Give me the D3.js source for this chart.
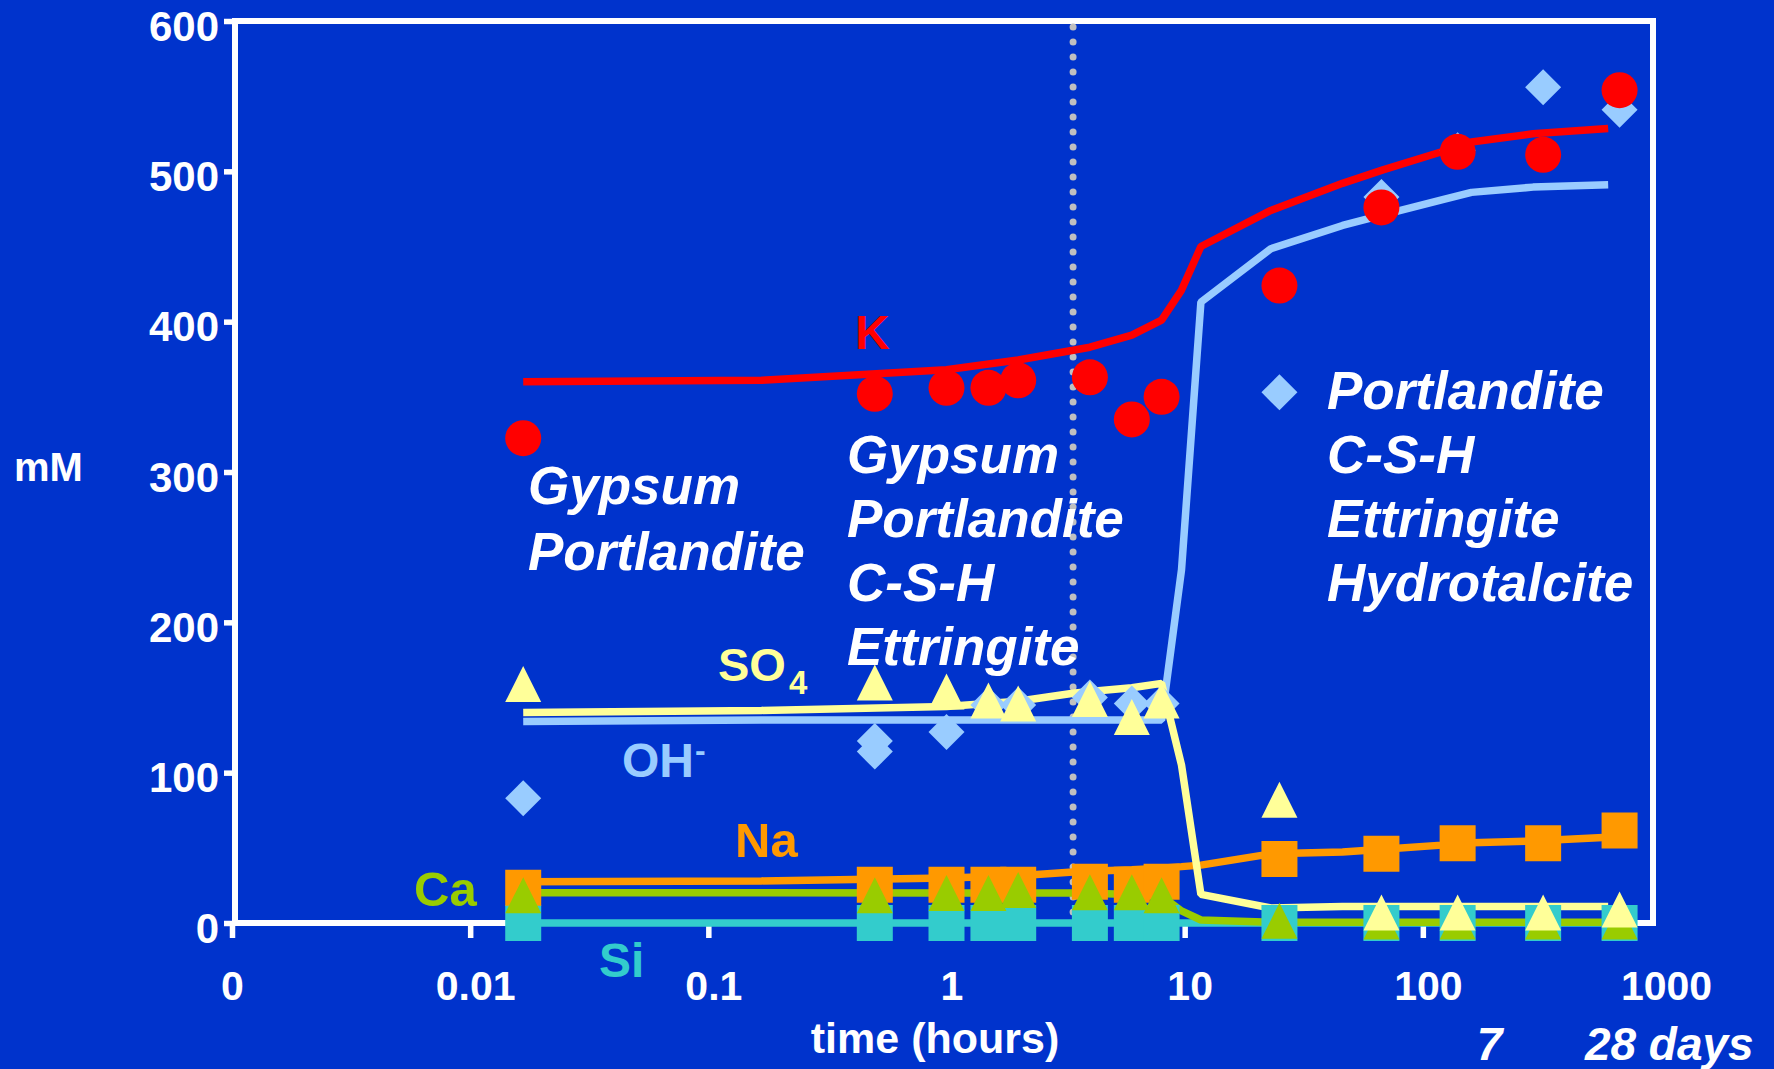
<!DOCTYPE html>
<html>
<head>
<meta charset="utf-8">
<script src="https://cdn.jsdelivr.net/npm/d3@7"></script>
<style>
  html, body { margin: 0; padding: 0; background: #0033cc; overflow: hidden; }
  svg { display: block; }
  text { font-family: "Liberation Sans", Arial, Helvetica, sans-serif; font-weight: bold; fill: #ffffff; }
</style>
</head>
<body>
<svg id="chart" width="1774" height="1069"></svg>
<script>
// ---- Simulated pore-solution composition (mM) on a common time grid (hours)
const modelHours = [0.0167, 0.167, 1, 2, 3.4, 4, 6, 8, 9.7, 11.7, 23, 46, 68, 120, 160, 290, 600];
const modelK   = [360, 361, 368, 374.5, 381, 383, 391, 401, 421, 450, 474, 492, 501, 513, 519.5, 525, 528.5];
const modelOH  = [134, 135, 135, 135, 135, 135, 135, 135, 235, 413, 448.5, 464, 471, 481, 486, 489.5, 491];
const modelSO4 = [140, 141.4, 144, 147.5, 152.8, 154, 156.5, 159.4, 105, 19, 10, 11, 11, 11, 11, 11, 11];
const modelNa  = [27.5, 28, 30, 31.5, 34, 34.5, 35.5, 36.5, 37.5, 38.5, 46, 47.3, 49, 51.8, 53.3, 54.5, 57];
const modelCa  = [20.2, 20.2, 20, 20, 20, 19.8, 19, 18, 8, 2, 0.5, 0.5, 0.5, 0.5, 0.5, 0.5, 0.5];
const modelSi  = [0, 0, 0, 0, 0, 0, 0, 0, 0, 0, 0, 0, 0, 0, 0, 0, 0];

// ---- Measured pore-solution composition (mM)
const sampleHours = [0.0167, 0.5, 1, 1.5, 2, 4, 6, 8, 25, 67, 140, 320, 670];
const measK   = [322.5, 352, 356, 356, 361, 363, 335, 350, 424, 476, 513, 511, 554];
const measSO4 = [159, 160, 154, 148, 146, 149, 137, 148, 82, 7, 7, 7, 9];
const measNa  = [23.5, 25.5, 25.5, 25.5, 25.5, 27.5, 25.5, 27.5, 42.5, 46, 53, 53, 61.5];
const measCa  = [18.5, 18.5, 20, 20, 22, 20.5, 20.5, 18.5, 1.5, 1, 1, 1, 1];
const measSi  = [0, 0, 0, 0, 0, 0, 0, 0, 0, 0, 0, 0, 0];
const ohHours = [0.0167, 0.5, 0.5, 1, 1.5, 2, 4, 6, 8, 25, 67, 140, 320, 670];
const measOH  = [83, 121, 114, 127, 145, 145, 150, 146, 146, 353, 483, 514, 556, 541];

// ---- Axes
const yTicks = [0, 100, 200, 300, 400, 500, 600];
const xTickValues = [0.001, 0.01, 0.1, 1, 10, 100, 1000];
const xTickLabels = ["0", "0.01", "0.1", "1", "10", "100", "1000"];
const xTickMarks  = [0.001, 0.01, 0.1, 1, 10, 100];
const dayHours  = [168, 672];
const dayLabels = ["7", "28 days"];
const dividerHours = 3.4;

const colors = {
  K: "#ff0000", OH: "#99ccff", SO4: "#ffff99", Na: "#ff9900", Ca: "#99cc00", Si: "#33cccc"
};

const svg = d3.select("#chart");
const frame = { left: 235, right: 1653, top: 21, bottom: 923 };

const x = d3.scaleLog().domain([0.001, 1000]).range([232, 1661]);
const y = d3.scaleLinear().domain([0, 600]).range([frame.bottom, frame.top]);

// plot frame
svg.append("rect")
  .attr("x", frame.left).attr("y", frame.top)
  .attr("width", frame.right - frame.left).attr("height", frame.bottom - frame.top)
  .attr("fill", "none").attr("stroke", "#ffffff").attr("stroke-width", 6);

// y axis ticks + labels
const yAxis = svg.append("g")
  .attr("transform", `translate(${frame.left},0)`)
  .call(d3.axisLeft(y).tickValues(yTicks).tickSize(11).tickPadding(5).tickFormat(d3.format("d")));
yAxis.select(".domain").remove();
yAxis.selectAll(".tick line").attr("stroke", "#ffffff").attr("stroke-width", 5.5);
yAxis.selectAll(".tick text")
  .attr("fill", "#ffffff").attr("font-size", 42).attr("dy", "0.46em")
  .attr("font-family", "Liberation Sans, Arial, sans-serif").attr("font-weight", "bold");

// x axis tick marks (below the frame)
const xMarks = svg.append("g")
  .attr("transform", `translate(0,${frame.bottom})`)
  .call(d3.axisBottom(x).tickValues(xTickMarks).tickSize(15).tickFormat(""));
xMarks.select(".domain").remove();
xMarks.selectAll(".tick line").attr("stroke", "#ffffff").attr("stroke-width", 5.5);

// x axis labels
const xLabels = svg.append("g")
  .attr("transform", `translate(0,${frame.bottom})`)
  .call(d3.axisBottom(x).tickValues(xTickValues).tickSize(0)
    .tickFormat((d, i) => xTickLabels[i]));
xLabels.select(".domain").remove();
xLabels.selectAll(".tick text")
  .attr("fill", "#ffffff").attr("font-size", 41).attr("y", 77).attr("dy", 0)
  .attr("dx", (d, i) => i === 0 ? 0 : 5)
  .attr("font-family", "Liberation Sans, Arial, sans-serif").attr("font-weight", "bold");

// day markers under the time axis
svg.selectAll("text.day")
  .data(dayHours)
  .join("text")
  .attr("class", "day")
  .attr("x", (d, i) => i === 0 ? x(d) + 13 : x(d) - 35)
  .attr("y", 1060)
  .attr("text-anchor", (d, i) => i === 0 ? "middle" : "start")
  .attr("font-size", 46).attr("font-style", "italic")
  .text((d, i) => dayLabels[i]);

// axis titles
svg.append("text").attr("x", 935).attr("y", 1053).attr("text-anchor", "middle")
  .attr("font-size", 43).text("time (hours)");
svg.append("text").attr("x", 14).attr("y", 481).attr("font-size", 40).text("mM");

// dotted divider
svg.append("line")
  .attr("x1", x(dividerHours)).attr("x2", x(dividerHours))
  .attr("y1", frame.top + 6).attr("y2", frame.bottom - 3)
  .attr("stroke", "#c0c0c0").attr("stroke-width", 7)
  .attr("stroke-linecap", "round").attr("stroke-dasharray", "0 15");

// model curves
const line = d3.line().x(d => x(d[0])).y(d => y(d[1]));
const curves = [
  [modelSi, colors.Si], [modelCa, colors.Ca], [modelNa, colors.Na],
  [modelOH, colors.OH], [modelSO4, colors.SO4], [modelK, colors.K]
];
curves.forEach(([vals, col]) => {
  svg.append("path")
    .datum(modelHours.map((h, i) => [h, vals[i]]))
    .attr("d", line)
    .attr("fill", "none").attr("stroke", col)
    .attr("stroke-width", 7.5).attr("stroke-linejoin", "bevel");
});

// measured points
const S = 18;
const square = (cx, cy) => `M${cx - S},${cy - S}h${2 * S}v${2 * S}h${-2 * S}Z`;
const triangle = (cx, cy) => `M${cx},${cy - S}L${cx + S},${cy + S}L${cx - S},${cy + S}Z`;
const diamond = (cx, cy) => `M${cx},${cy - S}L${cx + S},${cy}L${cx},${cy + S}L${cx - S},${cy}Z`;

function markers(hours, vals, shape, col) {
  svg.append("g").selectAll("path")
    .data(hours.map((h, i) => [h, vals[i]]))
    .join("path")
    .attr("d", d => shape(x(d[0]), y(d[1])))
    .attr("fill", col);
}
markers(sampleHours, measSi, square, colors.Si);
markers(sampleHours, measNa, square, colors.Na);
markers(sampleHours, measCa, triangle, colors.Ca);
markers(ohHours, measOH, diamond, colors.OH);
markers(sampleHours, measSO4, triangle, colors.SO4);
svg.append("g").selectAll("circle")
  .data(sampleHours.map((h, i) => [h, measK[i]]))
  .join("circle")
  .attr("cx", d => x(d[0])).attr("cy", d => y(d[1])).attr("r", S)
  .attr("fill", colors.K);

// species labels
svg.append("text").attr("x", 855).attr("y", 349).attr("font-size", 48)
  .style("fill", colors.K).text("K");
const so4 = svg.append("text").attr("x", 718).attr("y", 681).style("fill", colors.SO4);
so4.append("tspan").attr("font-size", 47).text("SO");
so4.append("tspan").attr("font-size", 33).attr("dx", 3).attr("dy", 13).text("4");
const oh = svg.append("text").attr("x", 622).attr("y", 777).style("fill", colors.OH);
oh.append("tspan").attr("font-size", 48).text("OH");
oh.append("tspan").attr("font-size", 32).attr("dx", 1).attr("dy", -16).text("-");
svg.append("text").attr("x", 735).attr("y", 857).attr("font-size", 49)
  .style("fill", colors.Na).text("Na");
svg.append("text").attr("x", 414).attr("y", 906).attr("font-size", 49)
  .style("fill", colors.Ca).text("Ca");
svg.append("text").attr("x", 599).attr("y", 977).attr("font-size", 48)
  .style("fill", colors.Si).text("Si");

// phase assemblages
const phaseGroups = [
  { x: 528, y0: 504, lines: ["Gypsum", "Portlandite"], gap: 66 },
  { x: 847, y0: 473, lines: ["Gypsum", "Portlandite", "C-S-H", "Ettringite"], gap: 64 },
  { x: 1327, y0: 409, lines: ["Portlandite", "C-S-H", "Ettringite", "Hydrotalcite"], gap: 64 }
];
phaseGroups.forEach(g => {
  svg.append("g").selectAll("text")
    .data(g.lines)
    .join("text")
    .attr("x", g.x).attr("y", (d, i) => g.y0 + i * g.gap)
    .attr("font-size", 53).attr("font-style", "italic")
    .text(d => d);
});
</script>
</body>
</html>
